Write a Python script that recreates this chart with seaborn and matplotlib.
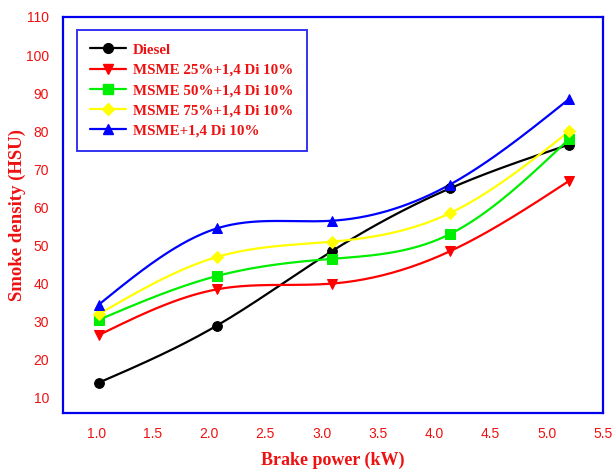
import matplotlib
matplotlib.use("Agg")
import matplotlib.pyplot as plt
import numpy as np
import pandas as pd
import seaborn as sns

# data
brake_power = [1.02, 2.07, 3.09, 4.14, 5.2]
diesel = [14.0, 29.0, 48.5, 65.0, 76.5]
msme25 = [26.5, 38.5, 40.0, 48.5, 67.0]
msme50 = [30.5, 42.0, 46.5, 53.0, 78.0]
msme75 = [32.0, 47.0, 51.0, 58.5, 80.0]
msme100 = [34.5, 54.5, 56.5, 66.0, 88.5]

series_names = [
    "Diesel",
    "MSME 25%+1,4 Di 10%",
    "MSME 50%+1,4 Di 10%",
    "MSME 75%+1,4 Di 10%",
    "MSME+1,4 Di 10%",
]
series_values = [diesel, msme25, msme50, msme75, msme100]
colors = ["black", "#ff0000", "#00ee00", "#ffff00", "#0000ff"]
markers = ["o", "v", "s", "D", "^"]
marker_sizes = [7, 7.5, 6.5, 6.5, 7.5]


def natural_spline(x, y, n=200):
    # natural cubic spline so the lines bend like the original
    x = np.asarray(x, float)
    y = np.asarray(y, float)
    k = len(x)
    h = np.diff(x)
    A = np.zeros((k, k))
    b = np.zeros(k)
    A[0, 0] = A[-1, -1] = 1
    for i in range(1, k - 1):
        A[i, i - 1] = h[i - 1]
        A[i, i] = 2 * (h[i - 1] + h[i])
        A[i, i + 1] = h[i]
        b[i] = 6 * ((y[i + 1] - y[i]) / h[i] - (y[i] - y[i - 1]) / h[i - 1])
    m = np.linalg.solve(A, b)
    xs = np.linspace(x[0], x[-1], n)
    idx = np.clip(np.searchsorted(x, xs) - 1, 0, k - 2)
    x0, x1 = x[idx], x[idx + 1]
    hh = x1 - x0
    t0, t1 = x1 - xs, xs - x0
    ys = (m[idx] * t0**3 + m[idx + 1] * t1**3) / (6 * hh) \
        + (y[idx] / hh - m[idx] * hh / 6) * t0 \
        + (y[idx + 1] / hh - m[idx + 1] * hh / 6) * t1
    return xs, ys


sns.set_style("white")
fig = plt.figure(figsize=(6.16, 4.7), dpi=100)
ax = fig.add_axes([0.102, 0.121, 0.877, 0.843])

handles = []
for name, vals, c, mk, ms in zip(series_names, series_values, colors, markers, marker_sizes):
    xs, ys = natural_spline(brake_power, vals)
    ax.plot(xs, ys, color=c, lw=1.6, zorder=2)
    df = pd.DataFrame({"x": brake_power, "y": vals})
    sns.lineplot(data=df, x="x", y="y", ax=ax, color=c, marker=mk, markersize=ms,
                 markeredgecolor=c, linestyle="none", zorder=3)
    h, = ax.plot([], [], color=c, lw=1.6, marker=mk, markersize=ms, markeredgecolor=c)
    handles.append(h)

ax.set_xlim(0.7, 5.5)
ax.set_ylim(6, 110)
ax.set_xticks(np.arange(1.0, 5.51, 0.5))
ax.set_yticks(np.arange(10, 111, 10))
ax.set_xticklabels([f"{v:.1f}" for v in np.arange(1.0, 5.51, 0.5)])

for s in ax.spines.values():
    s.set_color("#0000ee")
    s.set_linewidth(1.6)
ax.tick_params(axis="both", direction="out", length=5, width=1.3, color="#0000ee",
               labelcolor="#ee1111", labelsize=10, pad=5)
for lab in ax.get_xticklabels() + ax.get_yticklabels():
    lab.set_family("Liberation Sans")

ax.set_xlabel("Brake power (kW)", color="#ee1111", fontsize=13, fontweight="bold",
              family="Liberation Serif", labelpad=8)
ax.set_ylabel("Smoke density (HSU)", color="#ee1111", fontsize=13.5, fontweight="bold",
              family="Liberation Serif", labelpad=0)

leg = ax.legend(handles, series_names, loc="upper left", bbox_to_anchor=(0.026, 0.968),
                frameon=True, fancybox=False, handlelength=2.35, numpoints=1,
                prop={"family": "Liberation Serif", "weight": "bold", "size": 10.8},
                borderpad=0.9, labelspacing=0.45, handletextpad=0.5, borderaxespad=0)
leg.get_frame().set_edgecolor("#0000ee")
leg.get_frame().set_linewidth(1.4)
for t in leg.get_texts():
    t.set_color("#ee1111")

fig.savefig("out.png", dpi=100)
